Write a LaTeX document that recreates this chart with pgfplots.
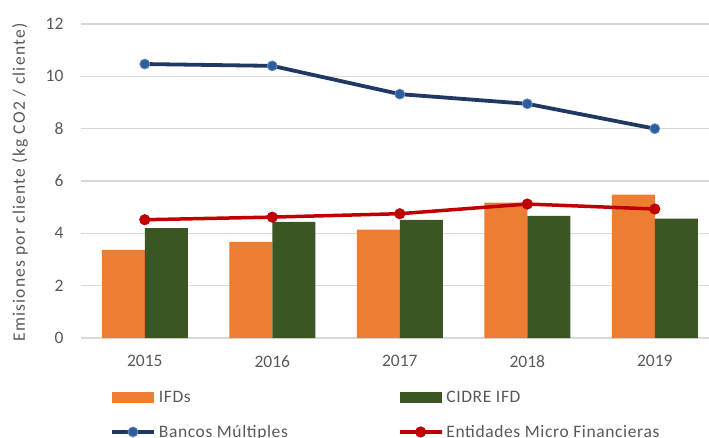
\documentclass[border=0pt]{standalone}
\usepackage{fontspec}
\setmainfont{Carlito}
\newfontfamily\ylabfont[LetterSpace=7]{Carlito}
\newfontfamily\legfont[LetterSpace=3.5]{Carlito}
\usepackage{pgfplots}
\pgfplotsset{compat=1.18}

\definecolor{ifdorange}{HTML}{ED7D31}
\definecolor{cidregreen}{HTML}{3B5524}
\definecolor{bancoblue}{HTML}{203864}
\definecolor{bancomark}{HTML}{2E5C9E}
\definecolor{microred}{HTML}{C00000}
\definecolor{gridgray}{HTML}{D9D9D9}
\definecolor{txtgray}{HTML}{595959}

\newcommand{\chartfont}{\fontsize{17.5}{21}\selectfont}

\pgfplotsset{
  barleg/.style={legend image code/.code={\fill[##1] (0pt,-5.5pt) rectangle (42pt,5.5pt);}},
  lineleg/.style={legend image code/.code={\draw[##1, mark repeat=2, mark phase=2] plot coordinates {(0pt,0pt) (21pt,0pt) (42pt,0pt)};}},
}

\begin{document}
\begin{tikzpicture}
\useasboundingbox (-81pt,-99pt) rectangle (628pt,338pt);
\begin{axis}[
  scale only axis,
  width=628pt, height=314pt,
  xmin=-0.5, xmax=4.425,
  ymin=0, ymax=12,
  xtick={0,1,2,3,4},
  xticklabels={2015,2016,2017,2018,2019},
  ytick={0,2,4,6,8,10,12},
  ymajorgrids=true,
  grid style={gridgray, line width=1.2pt},
  axis line style={draw=none},
  major tick length=0pt,
  /pgf/number format/assume math mode=true,
  tick label style={font=\chartfont, text=txtgray},
  xticklabel style={yshift=-14pt},
  yticklabel style={xshift=-14pt},
  ylabel={Emisiones por cliente (kg CO2 / cliente)},
  ylabel style={font=\chartfont\ylabfont, text=txtgray, at={(axis description cs:-0.097,0.495)}, anchor=center},
  legend columns=2,
  legend cell align=left,
  legend style={
    at={(axis description cs:0.046,-0.161)}, anchor=north west,
    draw=none, fill=none, inner sep=0pt,
    font=\chartfont\legfont, text=txtgray,
    row sep=17.5pt,
    /tikz/every odd column/.style={column sep=1pt},
    /tikz/column 2/.style={column sep=108pt},
  },
]
\addplot[ybar, bar width=43pt, bar shift=-21.5pt, fill=ifdorange, draw=none, barleg]
  coordinates {(0,3.37) (1,3.67) (2,4.14) (3,5.17) (4,5.48)};
\addlegendentry{IFDs}
\addplot[ybar, bar width=43pt, bar shift=21.5pt, fill=cidregreen, draw=none, barleg]
  coordinates {(0,4.20) (1,4.44) (2,4.51) (3,4.67) (4,4.56)};
\addlegendentry{CIDRE IFD}
\addplot[bancoblue, line width=3.8pt, mark=*, mark size=5pt,
  mark options={fill=bancomark, draw=bancomark!70!white, line width=0.8pt}, lineleg]
  coordinates {(0,10.47) (1,10.40) (2,9.32) (3,8.95) (4,8.00)};
\addlegendentry{Bancos Múltiples}
\addplot[microred, line width=3.5pt, mark=*, mark size=5.3pt,
  mark options={fill=microred, draw=microred, line width=0.5pt}, lineleg]
  coordinates {(0,4.52) (1,4.62) (2,4.75) (3,5.12) (4,4.93)};
\addlegendentry{Entidades Micro Financieras}
\end{axis}
\end{tikzpicture}
\end{document}
